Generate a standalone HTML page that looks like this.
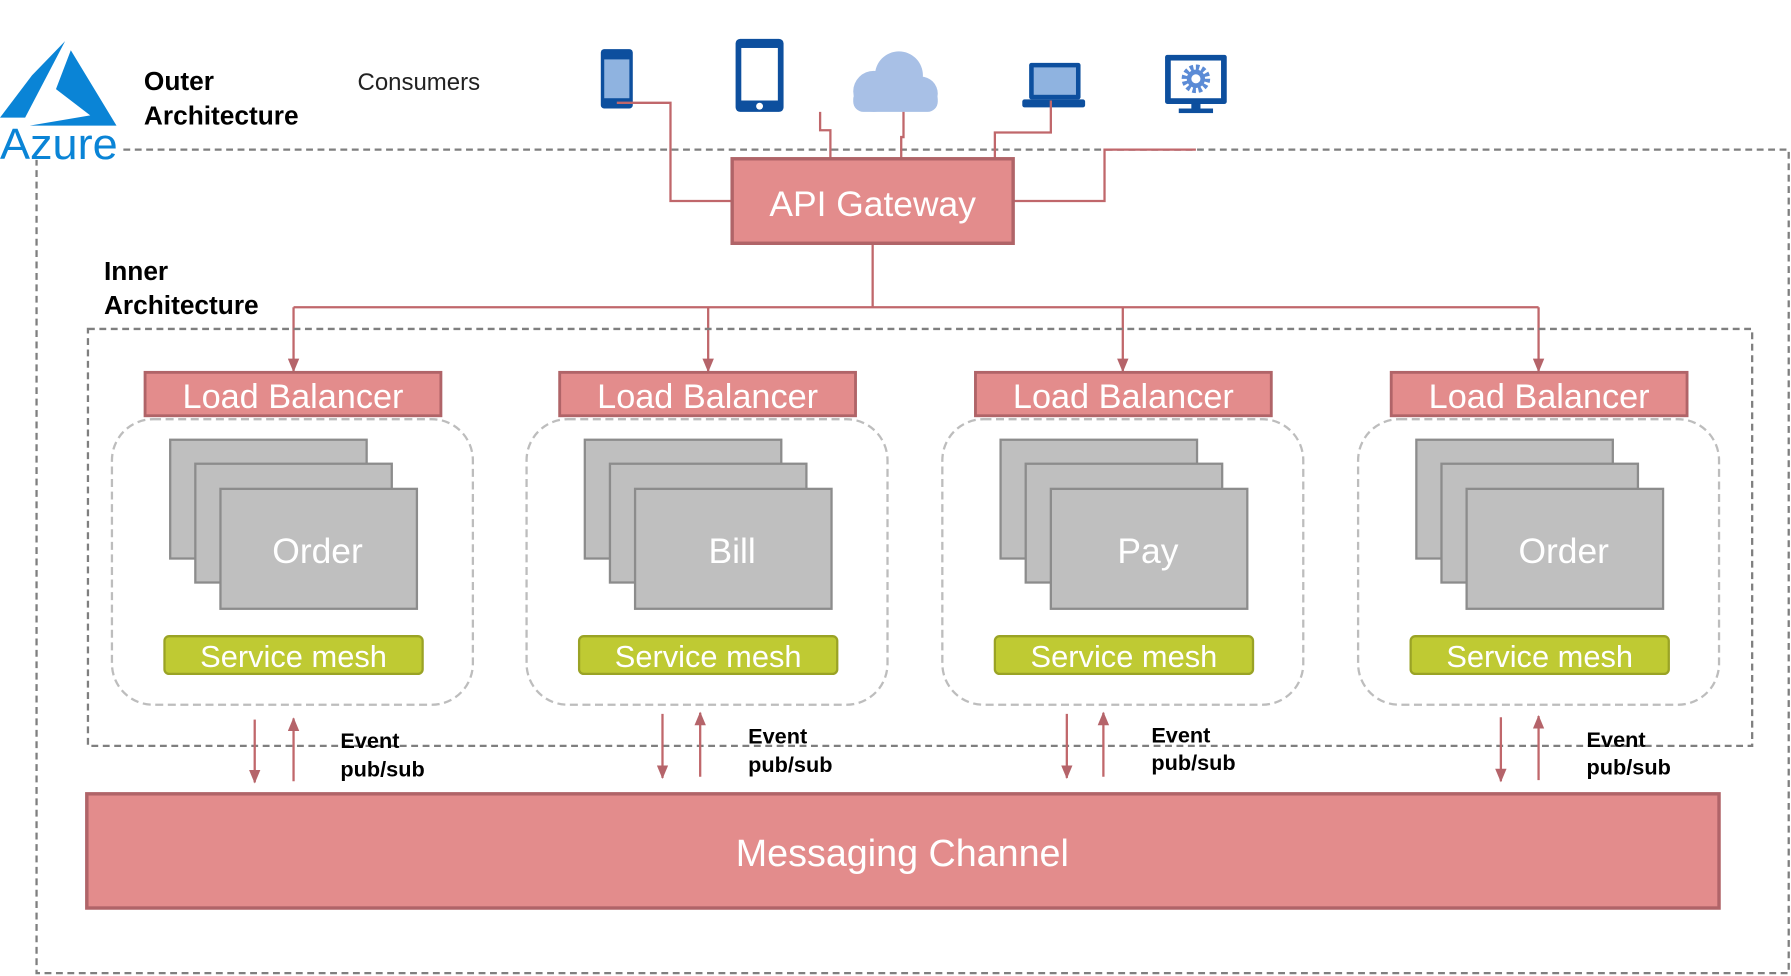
<!DOCTYPE html>
<html><head><meta charset="utf-8"><style>
html,body{margin:0;padding:0;background:#fff;}
svg{display:block;}
text{font-family:"Liberation Sans","DejaVu Sans",sans-serif;}
</style></head><body>
<svg width="1791" height="976" viewBox="0 0 1568 854.5" preserveAspectRatio="none" xmlns="http://www.w3.org/2000/svg">
<defs>
<marker id="ah2" markerWidth="12" markerHeight="10" refX="11" refY="5" orient="auto" markerUnits="userSpaceOnUse" viewBox="0 0 12 10">
<path d="M0,0 L12,5 L0,10 z" fill="#b5646a"/>
</marker>
</defs>

<!-- Azure logo -->
<path d="M57,36 L28,66 L0,103 L22,103 Z" fill="#0a84d6"/>
<path d="M62,44 L102,110 L26,110 L79,101 L49,78 Z" fill="#0a84d6"/>
<text x="0" y="139" font-size="38" fill="#0a84d6" textLength="103" lengthAdjust="spacingAndGlyphs">Azure</text>

<text x="126" y="79" font-size="23" font-weight="bold" fill="#000">Outer</text>
<text x="126" y="109" font-size="23" font-weight="bold" fill="#000">Architecture</text>
<text x="313" y="79" font-size="21" fill="#222">Consumers</text>

<!-- Outer dashed box -->
<path d="M108,131 H1566 V852 H32 V140" fill="none" stroke="#7f7f7f" stroke-width="2" stroke-dasharray="6,4"/>

<!-- Icons -->
<rect x="526" y="43" width="28" height="52" rx="3" fill="#0d4f9e"/>
<rect x="529" y="52" width="22" height="34" fill="#8fb3e0"/>
<rect x="644" y="34" width="42" height="64" rx="4" fill="#0d4f9e"/>
<rect x="649" y="42" width="32" height="46" fill="#fff"/>
<circle cx="665" cy="93" r="3" fill="#fff"/>
<g fill="#a8c0e6">
<circle cx="765" cy="80" r="18"/><circle cx="787" cy="66" r="21"/><circle cx="806" cy="82" r="15"/>
<rect x="747" y="78" width="74" height="20" rx="9"/>
</g>
<rect x="901" y="55" width="45" height="32" rx="2" fill="#0d4f9e"/>
<rect x="905" y="59" width="37" height="24" fill="#8fb3e0"/>
<rect x="895" y="87" width="55" height="7" rx="2" fill="#0d4f9e"/>
<rect x="1020" y="48" width="54" height="43" rx="2" fill="#0d4f9e"/>
<rect x="1025" y="53" width="44" height="33" fill="#fff"/>
<rect x="1043" y="91" width="8" height="5" fill="#0d4f9e"/>
<rect x="1032" y="95" width="30" height="4" fill="#0d4f9e"/>
<circle cx="1047" cy="69" r="10" fill="none" stroke="#5b8bd6" stroke-width="5" stroke-dasharray="3,2.2"/>
<circle cx="1047" cy="69" r="6" fill="none" stroke="#5b8bd6" stroke-width="4"/>

<!-- consumer connectors -->
<g fill="none" stroke="#c0676b" stroke-width="2">
<path d="M540,90 H587 V176 H641"/>
<path d="M718,98 V114 H727 V139"/>
<path d="M791,98 V120 H789 V139"/>
<path d="M920,88 V116 H871 V143"/>
<path d="M887,176 H967 V131 H1047"/>
<path d="M764,213 V269"/>
<path d="M257,269 H1347"/>
<path d="M257,269 V325" marker-end="url(#ah2)"/>
<path d="M620,269 V325" marker-end="url(#ah2)"/>
<path d="M983,269 V325" marker-end="url(#ah2)"/>
<path d="M1347,269 V325" marker-end="url(#ah2)"/>
</g>

<!-- API Gateway -->
<rect x="641" y="139" width="246" height="74" fill="#e38c8c" stroke="#b06468" stroke-width="3"/>
<text x="764" y="189" font-size="31" fill="#fff" text-anchor="middle">API Gateway</text>

<text x="91" y="245" font-size="23" font-weight="bold" fill="#000">Inner</text>
<text x="91" y="275" font-size="23" font-weight="bold" fill="#000">Architecture</text>

<!-- Inner dashed box -->
<rect x="77" y="288" width="1457" height="365" fill="none" stroke="#7f7f7f" stroke-width="2" stroke-dasharray="6,4"/>

<!-- columns -->
<g id="col">
<rect x="98" y="367" width="316" height="250" rx="36" fill="none" stroke="#bdbdbd" stroke-width="2" stroke-dasharray="7,4"/>
<rect x="127" y="326" width="259" height="38" fill="#e38c8c" stroke="#b06468" stroke-width="2.5"/>
<text x="256.5" y="357" font-size="30" fill="#fff" text-anchor="middle">Load Balancer</text>
<rect x="149" y="385" width="172" height="104" fill="#bfbfbf" stroke="#8c8c8c" stroke-width="2"/>
<rect x="171" y="406" width="172" height="104" fill="#bfbfbf" stroke="#8c8c8c" stroke-width="2"/>
<rect x="193" y="428" width="172" height="105" fill="#bfbfbf" stroke="#8c8c8c" stroke-width="2"/>
<rect x="144" y="557" width="226" height="33" rx="4" fill="#bfca33" stroke="#9aa325" stroke-width="2"/>
<text x="257" y="584" font-size="27" fill="#fff" text-anchor="middle">Service mesh</text>
</g>
<use href="#col" x="363"/>
<use href="#col" x="727"/>
<use href="#col" x="1091"/>
<g font-size="31" fill="#fff" text-anchor="middle">
<text x="278" y="493">Order</text>
<text x="641" y="493">Bill</text>
<text x="1005" y="493">Pay</text>
<text x="1369" y="493">Order</text>
</g>

<!-- event arrows -->
<g fill="none" stroke="#c0676b" stroke-width="2">
<path d="M223,630 V685" marker-end="url(#ah2)"/>
<path d="M257,684 V629" marker-end="url(#ah2)"/>
<path d="M580,625 V681" marker-end="url(#ah2)"/>
<path d="M613,680 V624" marker-end="url(#ah2)"/>
<path d="M934,625 V681" marker-end="url(#ah2)"/>
<path d="M966,680 V624" marker-end="url(#ah2)"/>
<path d="M1314,628 V684" marker-end="url(#ah2)"/>
<path d="M1347,683 V627" marker-end="url(#ah2)"/>
</g>
<g font-size="19" font-weight="bold" fill="#000">
<text x="298" y="655">Event</text><text x="298" y="680">pub/sub</text>
<text x="655" y="651">Event</text><text x="655" y="676">pub/sub</text>
<text x="1008" y="650">Event</text><text x="1008" y="674">pub/sub</text>
<text x="1389" y="654">Event</text><text x="1389" y="678">pub/sub</text>
</g>

<!-- Messaging channel -->
<rect x="76" y="695" width="1429" height="100" fill="#e38c8c" stroke="#b06468" stroke-width="3"/>
<text x="790" y="758" font-size="33" fill="#fff" text-anchor="middle">Messaging Channel</text>
</svg>
</body></html>
